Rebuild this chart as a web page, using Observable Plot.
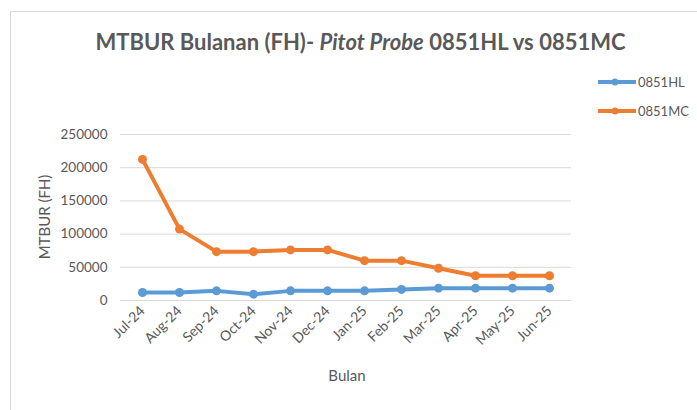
<!DOCTYPE html>
<html>
<head>
<meta charset="utf-8">
<script src="https://cdn.jsdelivr.net/npm/d3@7"></script>
<script src="https://cdn.jsdelivr.net/npm/@observablehq/plot@0.6"></script>
<style>
  html, body { margin: 0; padding: 0; background: #fff; }
  #wrap { position: relative; width: 697px; height: 410px; overflow: hidden; font-family: Lato, "Open Sans", sans-serif; color: #595959; }
  #border { position: absolute; left: 10px; top: 11px; width: 700px; height: 420px; border: 1px solid #d9d9d9; box-sizing: border-box; }
  #title { position: absolute; left: 0; width: 697px; top: 28px; line-height: 28px; text-align: center; font-size: 22px; font-weight: bold; padding-left: 24px; box-sizing: border-box; white-space: nowrap; }
  #chart { position: absolute; left: 0; top: 0; }
  .leg { position: absolute; left: 597px; font-size: 13px; display: flex; align-items: center; }
  .leg svg { margin-right: 1px; }
  #ylab { position: absolute; left: 44px; top: 217px; transform: translate(-50%, -50%) rotate(-90deg); font-size: 15px; white-space: nowrap; }
  #xlab { position: absolute; left: 347px; top: 375px; transform: translate(-50%, -50%); font-size: 15px; }
  #chart svg g[aria-label="x-axis tick label"] { font-size: 14px; }
</style>
</head>
<body>
<div id="wrap">
  <div id="border"></div>
  <div id="chart"></div>
  <div id="title">MTBUR Bulanan (FH)- <i>Pitot Probe</i> 0851HL vs 0851MC</div>
  <div id="legend"></div>
  <div id="ylab">MTBUR (FH)</div>
  <div id="xlab">Bulan</div>
</div>
<script>
const months = ["Jul-24","Aug-24","Sep-24","Oct-24","Nov-24","Dec-24","Jan-25","Feb-25","Mar-25","Apr-25","May-25","Jun-25"];
const hl = [12100, 12100, 14500, 9500, 14500, 14500, 14500, 16700, 18600, 18600, 18600, 18600];
const mc = [212500, 107500, 73600, 73600, 76200, 76200, 60000, 60000, 48500, 37300, 37300, 37300];
const seriesNames = ["0851HL", "0851MC"];
const seriesColors = ["#5B9BD5", "#ED7D31"];
const yTicks = [0, 50000, 100000, 150000, 200000, 250000];

const data = [];
months.forEach((m, i) => {
  data.push({month: m, value: hl[i], series: seriesNames[0]});
  data.push({month: m, value: mc[i], series: seriesNames[1]});
});

const plot = Plot.plot({
  width: 697,
  height: 410,
  marginLeft: 120,
  marginRight: 126,
  marginTop: 134,
  marginBottom: 110,
  style: { fontFamily: "Lato, 'Open Sans', sans-serif", fontSize: "13.5px", color: "#595959", background: "transparent" },
  x: { type: "point", domain: months, padding: 0.5, label: null, tickSize: 0, tickRotate: -45, tickPadding: 8 },
  y: { domain: [0, 250000], ticks: yTicks, label: null, tickSize: 0, tickPadding: 13, tickFormat: d => String(d) },
  color: { domain: seriesNames, range: seriesColors },
  marks: [
    Plot.gridY(yTicks, { stroke: "#d9d9d9", strokeOpacity: 1, strokeWidth: 1 }),
    Plot.line(data, { x: "month", y: "value", z: "series", stroke: "series", strokeWidth: 4 }),
    Plot.dot(data, { x: "month", y: "value", fill: "series", r: 4.5 })
  ]
});
document.getElementById("chart").appendChild(plot);

const legend = document.getElementById("legend");
seriesNames.forEach((name, i) => {
  const d = document.createElement("div");
  d.className = "leg";
  d.style.top = (74 + i * 29) + "px";
  d.innerHTML = `<svg width="40" height="10"><line x1="1" y1="5" x2="39" y2="5" stroke="${seriesColors[i]}" stroke-width="4"/><circle cx="18" cy="5" r="3.5" fill="${seriesColors[i]}"/></svg>${name}`;
  legend.appendChild(d);
});
</script>
</body>
</html>
